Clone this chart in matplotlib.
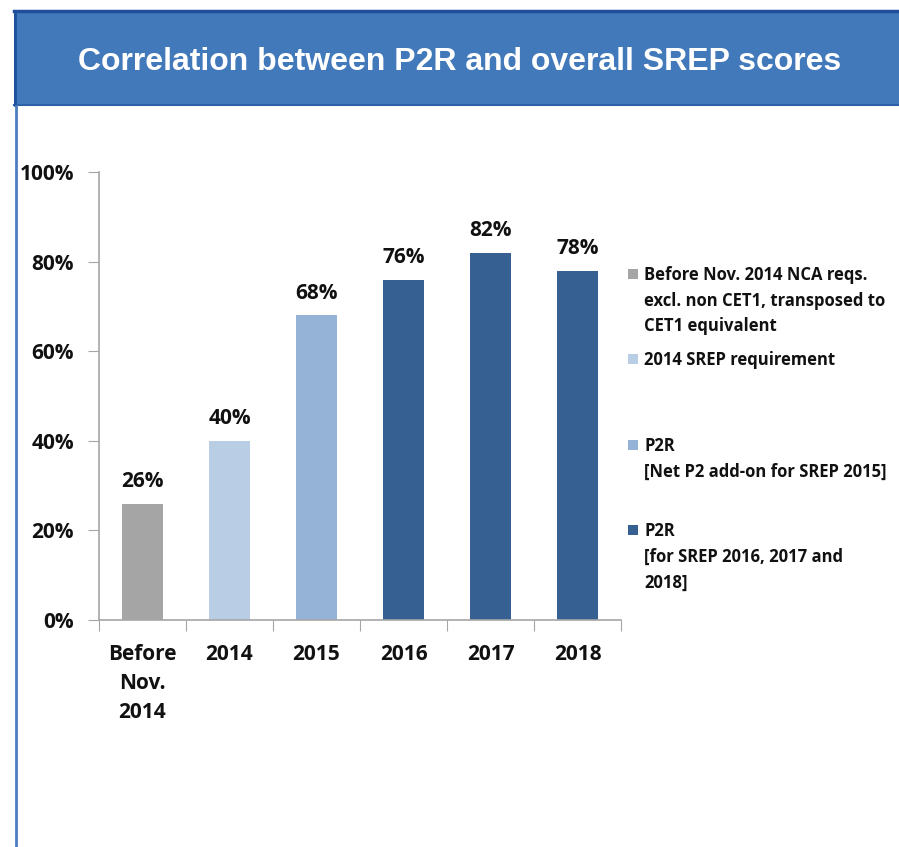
import matplotlib.pyplot as plt
from matplotlib.patches import Rectangle
from matplotlib.lines import Line2D

categories = ["Before\nNov.\n2014", "2014", "2015", "2016", "2017", "2018"]
values = [26, 40, 68, 76, 82, 78]
bar_groups = [0, 1, 2, 3, 3, 3]

group_colors = ["#A5A5A5", "#B9CDE5", "#95B3D7", "#366092"]
group_labels = [
    "Before Nov. 2014 NCA reqs.\nexcl. non CET1, transposed to\nCET1 equivalent",
    "2014 SREP requirement",
    "P2R\n[Net P2 add-on for SREP 2015]",
    "P2R\n[for SREP 2016, 2017 and\n2018]",
]
yticks = [0, 20, 40, 60, 80, 100]

W, H = 899, 847
FONT = "Open Sans"
INK = "#111111"
AXIS_GREY = "#A6A6A6"

fig = plt.figure(figsize=(W / 100, H / 100), dpi=100, facecolor="white")

# title banner
fig.patches.append(Rectangle((14 / W, 1 - 106 / H), (W - 14) / W, 96 / H,
                             transform=fig.transFigure, facecolor="#4279BA",
                             edgecolor="none", zorder=0))
fig.add_artist(Line2D([14 / W, 1], [1 - 11 / H] * 2, color="#1F4E9B", lw=2.5))
fig.add_artist(Line2D([14 / W, 1], [1 - 105 / H] * 2, color="#2E62A8", lw=1.5))
fig.add_artist(Line2D([15 / W] * 2, [1 - 11 / H, 1 - 105 / H], color="#1F4E9B", lw=2))
fig.add_artist(Line2D([16 / W] * 2, [0, 1 - 106 / H], color="#4A7EC0", lw=2))
fig.text(460 / W, 1 - 62.5 / H, "Correlation between P2R and overall SREP scores",
         ha="center", va="center", color="white", fontsize=23,
         fontweight="bold", family="Liberation Sans")

ax = fig.add_axes([99 / W, 1 - 620 / H, 522 / W, 448 / H])
xs = list(range(len(values)))
ax.bar(xs, values, width=0.46, color=[group_colors[g] for g in bar_groups], zorder=2)
for x, v in zip(xs, values):
    ax.text(x, v + 2.6, f"{v}%", ha="center", va="bottom", fontsize=15,
            fontweight="bold", family=FONT, color=INK)

ax.set_xlim(-0.5, len(values) - 0.5)
ax.set_ylim(0, 100)
ax.set_yticks(yticks)
ax.set_yticklabels([f"{t}%" for t in yticks], fontsize=15, fontweight="bold",
                   family=FONT, color=INK)
ax.set_xticks([x - 0.5 for x in range(len(values) + 1)], minor=False)
ax.set_xticklabels([])
ax.set_xticks(xs, minor=True)
ax.set_xticklabels(categories, minor=True, fontsize=15, fontweight="bold",
                   family=FONT, color=INK, linespacing=1.5, va="top")
ax.tick_params(axis="x", which="minor", length=0, pad=17)
ax.tick_params(axis="x", which="major", length=8, color=AXIS_GREY, direction="out")
ax.tick_params(axis="y", length=8, color=AXIS_GREY, pad=10)
for side in ["top", "right"]:
    ax.spines[side].set_visible(False)
for side in ["left", "bottom"]:
    ax.spines[side].set_color(AXIS_GREY)
    ax.spines[side].set_linewidth(1.2)

# legend, built by hand so the entries keep their uneven spacing
legend_tops = [274, 359, 445, 530]
for color, label, top in zip(group_colors, group_labels, legend_tops):
    fig.patches.append(Rectangle((628 / W, 1 - (top + 5) / H), 10 / W, 10 / H,
                                 transform=fig.transFigure, facecolor=color,
                                 edgecolor="none"))
    fig.text(644 / W, 1 - (top - 8) / H, label, ha="left", va="top",
             fontsize=12, fontweight="bold", family=FONT, color=INK,
             linespacing=1.55)

fig.savefig("out.png", dpi=100, facecolor="white")
